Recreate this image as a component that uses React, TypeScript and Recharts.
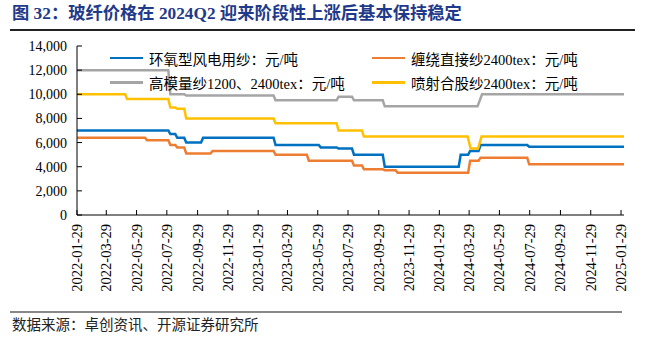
import React from 'react';
import { LineChart, Line, XAxis, YAxis, Legend } from 'recharts';

const titleText = '图 32：玻纤价格在 2024Q2 迎来阶段性上涨后基本保持稳定';
const sourceText = '数据来源：卓创资讯、开源证券研究所';

const startDate = '2022-01-29';
const endDate = '2025-02-04';

const tickDates = [
  '2022-01-29', '2022-03-29', '2022-05-29', '2022-07-29', '2022-09-29', '2022-11-29',
  '2023-01-29', '2023-03-29', '2023-05-29', '2023-07-29', '2023-09-29', '2023-11-29',
  '2024-01-29', '2024-03-29', '2024-05-29', '2024-07-29', '2024-09-29', '2024-11-29',
  '2025-01-29',
];

const yTicks = [0, 2000, 4000, 6000, 8000, 10000, 12000, 14000];

// 环氧型风电用纱：元/吨
const epoxyYarn: [string, number][] = [
  ['2022-01-29', 7000], ['2022-08-01', 7000], ['2022-08-05', 6700], ['2022-08-15', 6700],
  ['2022-08-19', 6400], ['2022-09-02', 6400], ['2022-09-06', 6000], ['2022-10-06', 6000],
  ['2022-10-10', 6400], ['2023-03-01', 6400], ['2023-03-05', 5800], ['2023-05-31', 5800],
  ['2023-06-04', 5600], ['2023-07-06', 5600], ['2023-07-10', 5500], ['2023-08-06', 5500],
  ['2023-08-10', 5000], ['2023-10-07', 5000], ['2023-10-11', 4000], ['2024-03-08', 4000],
  ['2024-03-12', 5000], ['2024-03-27', 5000], ['2024-03-31', 5300], ['2024-04-17', 5300],
  ['2024-04-21', 5800], ['2024-07-24', 5800], ['2024-07-28', 5650], ['2025-02-04', 5650],
];

// 缠绕直接纱2400tex：元/吨
const directRoving: [string, number][] = [
  ['2022-01-29', 6400], ['2022-06-15', 6400], ['2022-06-19', 6200], ['2022-08-01', 6200],
  ['2022-08-05', 5800], ['2022-08-15', 5800], ['2022-08-19', 5600], ['2022-09-02', 5600],
  ['2022-09-06', 5100], ['2022-10-25', 5100], ['2022-10-29', 5300], ['2023-03-01', 5300],
  ['2023-03-05', 5000], ['2023-05-07', 5000], ['2023-05-11', 4500], ['2023-08-06', 4500],
  ['2023-08-10', 4100], ['2023-08-26', 4100], ['2023-08-30', 3800], ['2023-10-07', 3800],
  ['2023-10-11', 3700], ['2023-11-02', 3700], ['2023-11-06', 3500], ['2024-03-27', 3500],
  ['2024-03-31', 4500], ['2024-04-17', 4500], ['2024-04-21', 4750], ['2024-07-24', 4750],
  ['2024-07-28', 4200], ['2025-02-04', 4200],
];

// 高模量纱1200、2400tex：元/吨
const highModulus: [string, number][] = [
  ['2022-01-29', 12000], ['2022-08-01', 12000], ['2022-08-05', 10000], ['2022-09-02', 10000],
  ['2022-09-06', 9900], ['2023-03-01', 9900], ['2023-03-05', 9500], ['2023-07-06', 9500],
  ['2023-07-10', 9800], ['2023-08-06', 9800], ['2023-08-10', 9500], ['2023-10-07', 9500],
  ['2023-10-11', 9000], ['2024-04-15', 9000], ['2024-04-24', 10000], ['2025-02-04', 10000],
];

// 喷射合股纱2400tex：元/吨
const sprayUp: [string, number][] = [
  ['2022-01-29', 10000], ['2022-05-06', 10000], ['2022-05-10', 9600], ['2022-08-01', 9600],
  ['2022-08-05', 8900], ['2022-08-15', 8900], ['2022-08-19', 8800], ['2022-09-02', 8800],
  ['2022-09-06', 8000], ['2023-03-01', 8000], ['2023-03-05', 7600], ['2023-07-06', 7600],
  ['2023-07-10', 7000], ['2023-08-26', 7000], ['2023-08-30', 6500], ['2024-03-26', 6500],
  ['2024-04-01', 5500], ['2024-04-16', 5500], ['2024-04-23', 6500], ['2025-02-04', 6500],
];

const seriesList = [
  { key: 'epoxy', name: '环氧型风电用纱：元/吨', color: '#0070C0', data: epoxyYarn, col: 0, row: 0 },
  { key: 'roving', name: '缠绕直接纱2400tex：元/吨', color: '#ED7D31', data: directRoving, col: 1, row: 0 },
  { key: 'highmod', name: '高模量纱1200、2400tex：元/吨', color: '#A5A5A5', data: highModulus, col: 0, row: 1 },
  { key: 'spray', name: '喷射合股纱2400tex：元/吨', color: '#FFC000', data: sprayUp, col: 1, row: 1 },
];

const FONT = "'Liberation Serif', 'Noto Sans CJK SC', serif";

const toTs = (d: string) => Date.parse(d + 'T00:00:00Z');
const fmtDate = (t: number) => new Date(t).toISOString().slice(0, 10);
const fmtNum = (v: number) => v.toLocaleString('en-US');

const XTick = (props: any) => {
  const { x, y, payload } = props;
  return (
    <text
      x={0}
      y={0}
      transform={`translate(${x},${y}) rotate(-90)`}
      textAnchor="end"
      dominantBaseline="central"
      fontFamily={FONT}
      fontSize={14.5}
      fill="#000"
    >
      {fmtDate(payload.value)}
    </text>
  );
};

const LegendContent = () => (
  <div style={{ position: 'relative', width: 540, height: 0 }}>
    {seriesList.map((s) => (
      <div
        key={s.key}
        style={{
          position: 'absolute',
          left: s.col === 0 ? 0 : 262,
          top: s.row * 24.4,
          height: 20,
          display: 'flex',
          alignItems: 'center',
          whiteSpace: 'nowrap',
        }}
      >
        <div style={{ width: 33, height: 2.5, background: s.color, marginRight: 6 }} />
        <span style={{ fontFamily: FONT, fontSize: 14.5, color: '#000' }}>{s.name}</span>
      </div>
    ))}
  </div>
);

export default function App() {
  const domain = [toTs(startDate), toTs(endDate)];
  const ticks = tickDates.map(toTs);
  return (
    <div style={{ position: 'relative', width: 645, height: 340, background: '#fff', overflow: 'hidden' }}>
      <style>{'body{margin:0}'}</style>
      <div
        style={{
          position: 'absolute',
          left: 12,
          top: 3,
          fontFamily: FONT,
          fontWeight: 'bold',
          fontSize: 17.3,
          color: '#1F3A8A',
          whiteSpace: 'nowrap',
          lineHeight: '22px',
        }}
      >
        {titleText}
      </div>
      <div style={{ position: 'absolute', left: 10, top: 29, width: 625, height: 2, background: '#222' }} />
      <div style={{ position: 'absolute', left: 0, top: 0 }}>
        <LineChart width={645} height={340} margin={{ top: 46, right: 21, bottom: 0, left: 0 }}>
          <XAxis
            dataKey="t"
            type="number"
            domain={domain}
            ticks={ticks}
            interval={0}
            height={125}
            tickSize={-5}
            tickMargin={14}
            tick={<XTick />}
            axisLine={{ stroke: '#000', strokeWidth: 1 }}
            tickLine={{ stroke: '#000', strokeWidth: 1 }}
            allowDataOverflow
          />
          <YAxis
            type="number"
            domain={[0, 14000]}
            ticks={yTicks}
            interval={0}
            width={77}
            tickSize={-5}
            tickMargin={15}
            tickFormatter={fmtNum}
            tick={{ fontFamily: FONT, fontSize: 14, fill: '#000' }}
            axisLine={{ stroke: '#000', strokeWidth: 1 }}
            tickLine={{ stroke: '#000', strokeWidth: 1 }}
          />
          <Legend
            content={<LegendContent />}
            wrapperStyle={{ position: 'absolute', left: 110, top: 48, width: 540, height: 0, bottom: 'auto', overflow: 'visible' }}
          />
          {seriesList.map((s) => (
            <Line
              key={s.key}
              data={s.data.map(([d, v]) => ({ t: toTs(d), v }))}
              dataKey="v"
              name={s.name}
              type="linear"
              stroke={s.color}
              strokeWidth={2.5}
              dot={false}
              activeDot={false}
              isAnimationActive={false}
            />
          ))}
        </LineChart>
      </div>
      <div style={{ position: 'absolute', left: 10, top: 311, width: 612, height: 1.5, background: '#888' }} />
      <div
        style={{
          position: 'absolute',
          left: 12,
          top: 316,
          fontFamily: FONT,
          fontSize: 14.5,
          color: '#222',
          whiteSpace: 'nowrap',
          lineHeight: '18px',
        }}
      >
        {sourceText}
      </div>
    </div>
  );
}
